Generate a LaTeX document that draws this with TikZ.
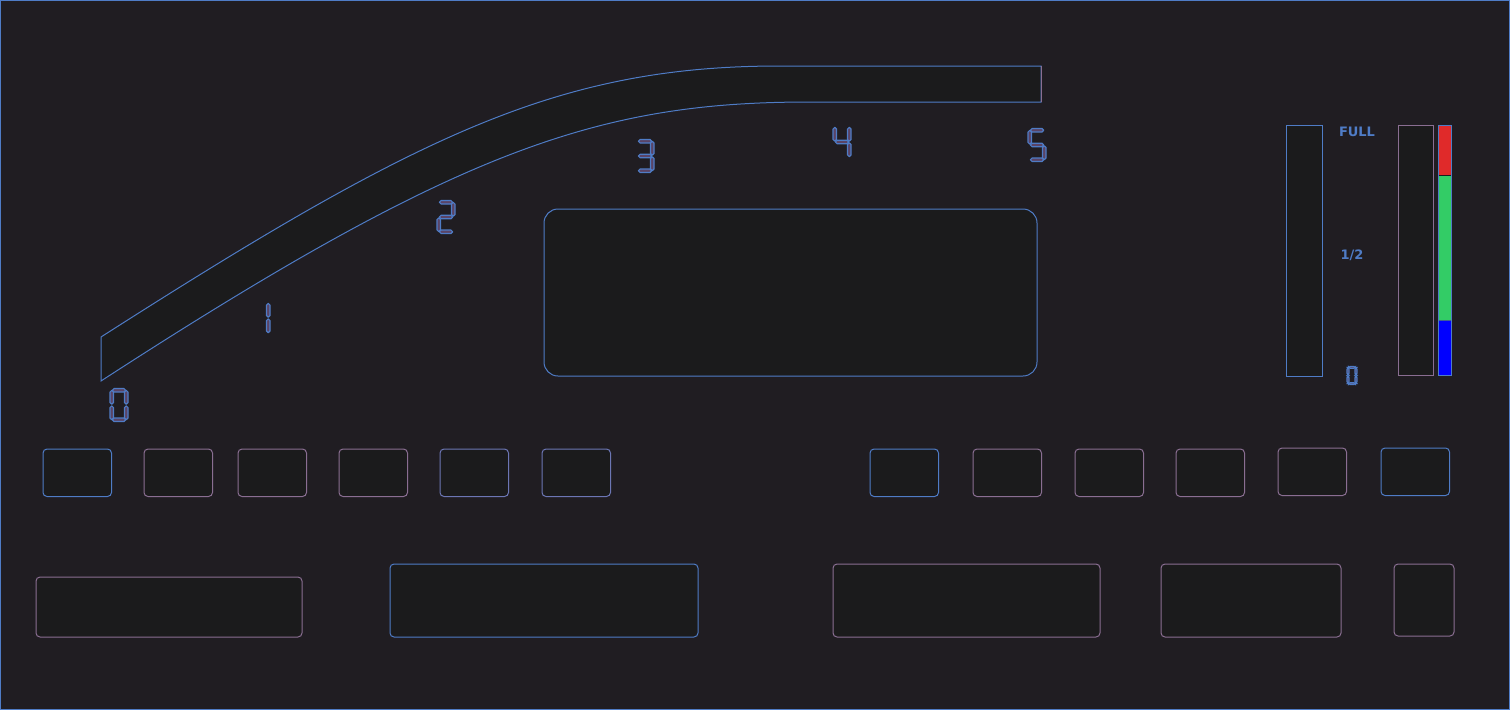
\documentclass[tikz,border=0pt]{standalone}
\usepackage{fontspec}
\setsansfont{DejaVu Sans}
\begin{document}
\begin{tikzpicture}[x=1pt,y=-1pt,
  lb/.style={draw=c#1,line width=1pt,fill=boxfill},
  lb/.default=B,
  seg/.style={draw=segB,fill=segfill,line width=1.2pt,rounded corners=1.6pt},
  lbl/.style={text=segB,font=\sffamily\bfseries\fontsize{13}{13}\selectfont,inner sep=0pt}]
\definecolor{bg}{HTML}{201D22}
\definecolor{boxfill}{HTML}{1B1B1C}
\definecolor{cB}{HTML}{4F7CC6}
\definecolor{cM}{HTML}{8A6E92}
\definecolor{cX}{HTML}{6C76B4}
\definecolor{segB}{HTML}{4F7CC6}
\definecolor{segfill}{HTML}{5A4466}
\definecolor{gred}{HTML}{E02A2A}
\definecolor{ggreen}{HTML}{33CC66}
\useasboundingbox (0,0) rectangle (1510,710);
\fill[bg] (0,0) rectangle (1510,710);
\draw[cB,line width=1pt] (0.5,0.5) rectangle (1509.5,709.5);
% segment definitions (local coords, digit 18 x 32)
\newcommand\sgA{\draw[seg] (-6.5,-16.5) rectangle (6.5,-13);}
\newcommand\sgG{\draw[seg] (-6.5,-1.75) rectangle (6.5,1.75);}
\newcommand\sgD{\draw[seg] (-6.5,13) rectangle (6.5,16.5);}
\newcommand\sgF{\draw[seg] (-9,-14.5) rectangle (-5.5,-1);}
\newcommand\sgE{\draw[seg] (-9,1) rectangle (-5.5,14.5);}
\newcommand\sgB{\draw[seg] (5.5,-14.5) rectangle (9,-1);}
\newcommand\sgC{\draw[seg] (5.5,1) rectangle (9,14.5);}
\newcommand\digt[4]{\begin{scope}[shift={(#1,#2)},scale=#3]#4\end{scope}}
% speed band
\draw[lb=B,line width=1pt] (101,337) .. controls (420,133) and (560,66) .. (780,66) -- (1041,66)
  -- (1041,102) -- (810,102) .. controls (600,102) and (460,148) .. (101,381) -- cycle;
\draw[cM,line width=1pt] (1041,66) -- (1041,102);
% digits
\digt{119}{405}{1}{\sgA\sgB\sgC\sgD\sgE\sgF}
\digt{261}{318}{1}{\sgB\sgC}
\digt{446}{217}{1}{\sgA\sgB\sgG\sgE\sgD}
\digt{645}{156}{1}{\sgA\sgB\sgG\sgC\sgD}
\digt{842}{142}{1}{\sgF\sgG\sgB\sgC}
\digt{1037}{145}{1}{\sgA\sgF\sgG\sgC\sgD}
\digt{1352}{375.5}{0.55}{\sgA\sgB\sgC\sgD\sgE\sgF}
% center display
\draw[lb=B,rounded corners=14pt] (544,209) rectangle (1037,376);
% fuel gauges
\draw[lb=B] (1286,125.5) rectangle (1322,376);
\draw[lb=M] (1398,125) rectangle (1433,375);
\fill[gred] (1438.5,125.5) rectangle (1450.5,175);
\fill[ggreen] (1438.5,175.5) rectangle (1450.5,320);
\fill[blue] (1438.5,320.5) rectangle (1450.5,374.5);
\draw[cB,line width=1pt] (1438,125) rectangle (1451,375);
\draw[boxfill,line width=0.8pt] (1438.5,175.3) -- (1450.5,175.3);
\draw[cB!70!boxfill,line width=0.8pt] (1438.5,320.3) -- (1450.5,320.3);
\node[lbl] (full) at (1357,131.5) {FULL};
\node[lbl] (half) at (1352,255.5) {1/2};
% button row
\foreach \x/\c in {43/B,144/M,238/M,339/M,440/X,542/X,870/B,973/M,1075/M,1176/M}
  \draw[lb=\c,rounded corners=4pt] (\x,449) rectangle ++(68.5,47.5);
\draw[lb=M,rounded corners=4pt] (1278,448) rectangle (1346.5,495.5);
\draw[lb=B,rounded corners=4pt] (1381,448) rectangle (1449.5,495.5);
% bottom row
\draw[lb=M,rounded corners=4pt] (36,577) rectangle (302,637);
\draw[lb=B,rounded corners=4pt] (390,564) rectangle (698,637);
\draw[lb=M,rounded corners=4pt] (833,564) rectangle (1100,637);
\draw[lb=M,rounded corners=4pt] (1161,564) rectangle (1341,637);
\draw[lb=M,rounded corners=4pt] (1394,564) rectangle (1454,636);
\end{tikzpicture}
\end{document}
